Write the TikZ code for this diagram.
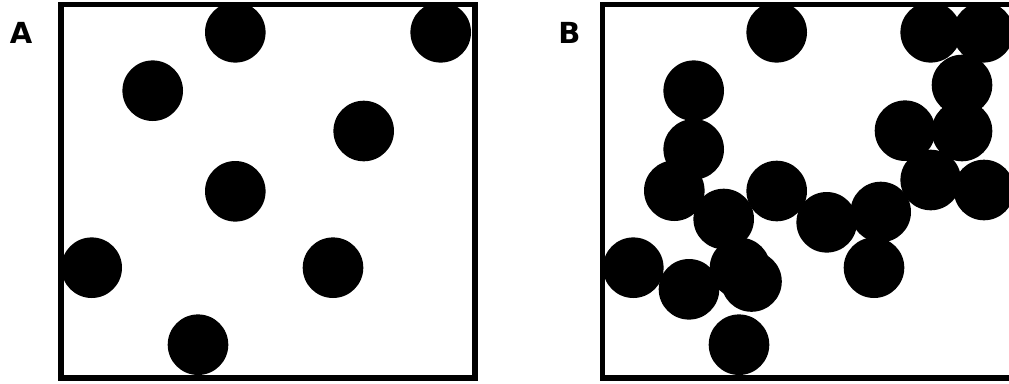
\documentclass[tikz,border=0pt]{standalone}
\usepackage{fontspec}
\setsansfont{DejaVu Sans}
\tikzset{
  particle/.style={fill=black},
  panelbox/.style={line width=5.7pt},
  panellabel/.style={inner sep=0pt,font=\sffamily\bfseries\fontsize{29}{29}\selectfont}
}
\begin{document}
\begin{tikzpicture}[x=1pt,y=-1pt]
  \useasboundingbox (0,0) rectangle (1009,383);
  % panel A: dispersed
  \fill[particle] (235.3,32.3) circle (30.3);
  \fill[particle] (440.7,32.3) circle (30.3);
  \fill[particle] (152.7,90.7) circle (30.3);
  \fill[particle] (363.7,131) circle (30.3);
  \fill[particle] (235.3,191.3) circle (30.3);
  \fill[particle] (91.7,267.7) circle (30.3);
  \fill[particle] (333,267.7) circle (30.3);
  \fill[particle] (198,344.7) circle (30.3);
  \draw[panelbox] (61,4.5) rectangle (474.7,378);
  \node[panellabel] (labA) at (21,32.5) {A};
  % panel B: clustered
  \fill[particle] (776.7,32.3) circle (30.3);
  \fill[particle] (930.7,32.3) circle (30.3);
  \fill[particle] (983.3,32.3) circle (30.3);
  \fill[particle] (962,85) circle (30.3);
  \fill[particle] (693.7,90.7) circle (30.3);
  \fill[particle] (905,130.7) circle (30.3);
  \fill[particle] (962,131) circle (30.3);
  \fill[particle] (693.7,149.3) circle (30.3);
  \fill[particle] (674.3,190.7) circle (30.3);
  \fill[particle] (776.7,191) circle (30.3);
  \fill[particle] (930.7,180) circle (30.3);
  \fill[particle] (984,190) circle (30.3);
  \fill[particle] (723.7,219) circle (30.3);
  \fill[particle] (826.7,222.3) circle (30.3);
  \fill[particle] (880.7,212) circle (30.3);
  \fill[particle] (633.3,267.7) circle (30.3);
  \fill[particle] (874,267.7) circle (30.3);
  \fill[particle] (689,289.3) circle (30.3);
  \fill[particle] (740,268) circle (30.3);
  \fill[particle] (751.5,281.5) circle (30.3);
  \fill[particle] (739,344.7) circle (30.3);
  \draw[panelbox] (602.5,4.5) rectangle (1016,378);
  \node[panellabel] (labB) at (569.5,33) {B};
\end{tikzpicture}
\end{document}
